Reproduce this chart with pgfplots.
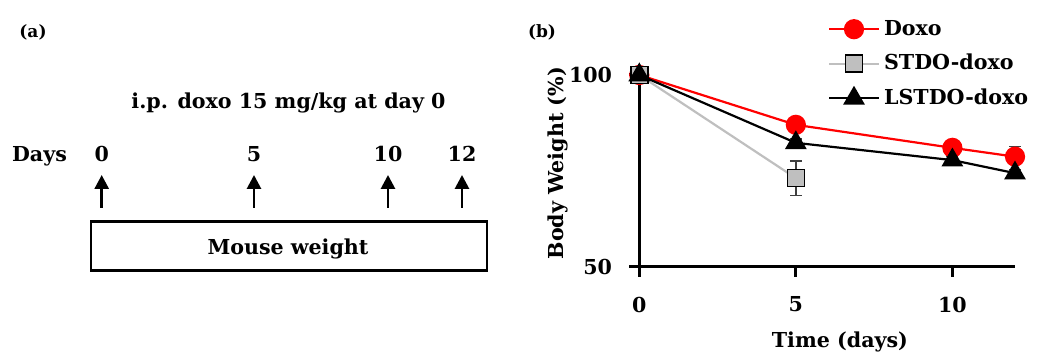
\documentclass[border=0pt]{standalone}
\usepackage{fontspec}
\setmainfont{DejaVu Serif}
\usepackage{pgfplots}
\pgfplotsset{compat=1.18}
\usetikzlibrary{arrows.meta}
\definecolor{dred}{RGB}{255,0,0}
\definecolor{lgray}{RGB}{191,191,191}
\begin{document}
\bfseries\fontsize{10.3}{12.4}\selectfont
\begin{tikzpicture}[x=0.5pt,y=0.5pt]
\useasboundingbox (0,0) rectangle (1040,352);
% ---------- panel (a): schematic ----------
\node[font=\bfseries\fontsize{8.5}{10}\selectfont] at (33,320) {(a)};
\node[anchor=base] at (288.5,243) {i.p. doxo 15 mg/kg at day 0};
\node[anchor=base] at (39.5,190.3) {Days};
\foreach \x/\d in {101.7/0,254/5,388/10,462/12}{
  \node[anchor=base] at (\x,190.3) {\d};
  \draw[line width=1.4pt,-{Triangle[width=7pt,length=7pt]}] (\x,144) -- (\x,177);
}
\draw[line width=1.2pt] (90.7,81.3) rectangle (486.7,130.3);
\node[anchor=base] at (288,97) {Mouse weight};
% ---------- panel (b) ----------
\node[font=\bfseries\fontsize{8.5}{10}\selectfont] at (542,320) {(b)};
\begin{axis}[
  at={(319.65pt,42.65pt)}, anchor=south west, scale only axis,
  width=187.85pt, height=95.85pt,
  xmin=0, xmax=12, ymin=50, ymax=100,
  axis lines*=left, axis line style={line width=1.5pt},
  xtick={0,5,10}, ytick={50,100},
  tick align=outside, major tick length=5pt,
  tick style={line width=1.5pt, black},
  clip=false,
  /pgf/number format/assume math mode=true,
  ticklabel style={font=\bfseries\fontsize{10.3}{12.4}\selectfont},
  xticklabel style={yshift=-6.5pt},
  yticklabel style={xshift=-5pt},
  xlabel={Time (days)}, ylabel={Body Weight (\%)},
  xlabel style={at={([yshift=-40.25pt]axis description cs:0.534,0)}, anchor=base},
  ylabel style={at={([xshift=-38pt]axis description cs:0,0.54)}, anchor=base},
  legend style={draw=none, fill=none, at={(0.485,1.33)}, anchor=north west,
    row sep=4pt, font=\bfseries\fontsize{10.3}{12.4}\selectfont},
  legend cell align=left,
  legend image code/.code={\draw[mark repeat=2,mark phase=2] plot coordinates {(0pt,0pt)(12.5pt,0pt)(25pt,0pt)};},
]
\addplot[color=dred, line width=1.1pt, mark=*, mark size=4.5pt,
  mark options={fill=dred, draw=dred},
  error bars/.cd, y dir=plus, y explicit,
  error bar style={line width=0.8pt, black!75},
  error mark options={rotate=90, mark size=3pt, line width=0.8pt, black!75}]
  coordinates {(0,100) +- (0,0) (5,87.0) +- (0,1) (10,81.0) +- (0,1) (12,78.7) +- (0,2.6)};
\addlegendentry{Doxo}
\addplot[color=lgray, line width=1.1pt, mark=square*, mark size=4.25pt,
  mark options={fill=lgray, draw=black, line width=0.8pt},
  error bars/.cd, y dir=both, y explicit,
  error bar style={line width=0.8pt, black!75},
  error mark options={rotate=90, mark size=3pt, line width=0.8pt, black!75}]
  coordinates {(0,100) +- (0,0) (5,73.1) +- (0,4.5)};
\addlegendentry{STDO-doxo}
\addplot[color=black, line width=1.1pt, mark=triangle*, mark size=5.2pt,
  mark options={fill=black, draw=black},
  error bars/.cd, y dir=both, y explicit,
  error bar style={line width=0.8pt, black!75},
  error mark options={rotate=90, mark size=3pt, line width=0.8pt, black!75}]
  coordinates {(0,100) +- (0,0) (5,82.3) +- (0,1) (10,77.8) +- (0,1) (12,74.4) +- (0,1)};
\addlegendentry{LSTDO-doxo}
\end{axis}
\end{tikzpicture}
\end{document}
